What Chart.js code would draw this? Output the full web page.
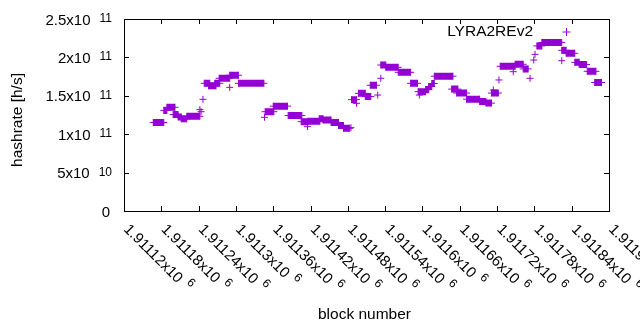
<!DOCTYPE html>
<html>
<head>
<meta charset="utf-8">
<script src="https://cdn.jsdelivr.net/npm/chart.js@4"></script>
<style>
  html, body { margin: 0; padding: 0; background: #fff; }
</style>
</head>
<body>
<canvas id="chart" width="640" height="330"></canvas>
<script>
// hashrate per block, read as flat runs: first block, last block, rate (h/s)
// a run with start == end is a single point
const runStart = [1911167, 1911184, 1911189, 1911199, 1911207, 1911212, 1911221, 1911242, 1911244, 1911247,
  1911249, 1911256, 1911266, 1911273, 1911290, 1911290, 1911304, 1911346, 1911347, 1911360,
  1911384, 1911405, 1911415, 1911416, 1911434, 1911440, 1911453, 1911465, 1911473, 1911485,
  1911486, 1911494, 1911497, 1911508, 1911516, 1911528, 1911533, 1911533, 1911541, 1911561,
  1911581, 1911593, 1911595, 1911605, 1911610, 1911615, 1911619, 1911647, 1911655, 1911671,
  1911692, 1911702, 1911711, 1911714, 1911723, 1911725, 1911746, 1911749, 1911762, 1911773,
  1911779, 1911781, 1911784, 1911792, 1911824, 1911824, 1911831, 1911845, 1911852, 1911865,
  1911877];
const runEnd = [1911184, 1911189, 1911202, 1911207, 1911212, 1911221, 1911242, 1911242, 1911244, 1911247,
  1911258, 1911268, 1911274, 1911290, 1911290, 1911304, 1911345, 1911346, 1911361, 1911383,
  1911406, 1911416, 1911415, 1911435, 1911440, 1911453, 1911465, 1911473, 1911483, 1911485,
  1911494, 1911494, 1911508, 1911517, 1911526, 1911528, 1911533, 1911541, 1911561, 1911581,
  1911592, 1911605, 1911595, 1911610, 1911615, 1911619, 1911649, 1911657, 1911671, 1911692,
  1911702, 1911711, 1911722, 1911714, 1911723, 1911749, 1911746, 1911762, 1911770, 1911773,
  1911779, 1911781, 1911792, 1911824, 1911824, 1911831, 1911845, 1911852, 1911864, 1911879,
  1911888];
const runRate = [115.2e9, 131e9, 135e9, 125.5e9, 122.5e9, 120e9, 123.3e9, 132e9, 129.3e9, 145.4e9,
  166.3e9, 163e9, 166.3e9, 172.8e9, 161e9, 176.8e9, 166.3e9, 122e9, 129.3e9, 136.5e9,
  124.3e9, 116.3e9, 109.8e9, 116.8e9, 120.2e9, 118.5e9, 115.2e9, 111.3e9, 107.7e9, 108.5e9,
  145e9, 140.2e9, 153.2e9, 149e9, 163.7e9, 151e9, 172.8e9, 190.1e9, 187.1e9, 180.6e9,
  166.3e9, 155.4e9, 151e9, 158e9, 162e9, 166e9, 175.5e9, 158.7e9, 153.6e9, 145.6e9,
  142.5e9, 140.5e9, 153.6e9, 157.5e9, 170.6e9, 188.4e9, 181.4e9, 191e9, 185e9, 172.8e9,
  196.6e9, 204e9, 215e9, 219.5e9, 195.7e9, 209.2e9, 205.3e9, 193.6e9, 190.7e9, 181.9e9,
  167.3e9];

const seriesName = 'LYRA2REv2';

const yTicks = [0, 5e10, 1e11, 1.5e11, 2e11, 2.5e11];
const yTickText = ['0', '5x10', '1x10', '1.5x10', '2x10', '2.5x10'];
const yTickExp = ['', '10', '11', '11', '11', '11'];

const xTicks = [1911120, 1911180, 1911240, 1911300, 1911360, 1911420, 1911480,
  1911540, 1911600, 1911660, 1911720, 1911780, 1911840, 1911900];
const xTickText = ['1.91112x10', '1.91118x10', '1.91124x10', '1.9113x10', '1.91136x10', '1.91142x10', '1.91148x10',
  '1.91154x10', '1.9116x10', '1.91166x10', '1.91172x10', '1.91178x10', '1.91184x10', '1.9119x10'];
const xTickExp = ['6', '6', '6', '6', '6', '6', '6', '6', '6', '6', '6', '6', '6', '6'];

const purple = '#9400d3';
const font = '"Liberation Sans", Arial, sans-serif';

// each run becomes a short thick segment, nulls break the line between runs
const points = [];
for (let i = 0; i < runStart.length; i++) {
    points.push({ x: runStart[i], y: runRate[i] });
    if (runEnd[i] !== runStart[i]) points.push({ x: runEnd[i], y: runRate[i] });
    points.push({ x: runEnd[i], y: null });
}

function drawCross(ctx, x, y, r) {
    ctx.beginPath();
    ctx.moveTo(x - r, y); ctx.lineTo(x + r, y);
    ctx.moveTo(x, y - r); ctx.lineTo(x, y + r);
    ctx.stroke();
}

// gnuplot style frame, inward ticks, superscript labels, key
const frame = {
    id: 'frame',
    afterDraw(chart) {
        const ctx = chart.ctx;
        const a = chart.chartArea;
        const xs = chart.scales.x, ys = chart.scales.y;
        const L = Math.round(a.left), R = Math.round(a.right);
        const T = Math.round(a.top), B = Math.round(a.bottom);
        ctx.save();
        ctx.strokeStyle = '#000';
        ctx.lineWidth = 1;
        ctx.strokeRect(L + 0.5, T + 0.5, R - L, B - T);

        ctx.beginPath();
        yTicks.forEach(v => {
            const py = Math.round(ys.getPixelForValue(v)) + 0.5;
            ctx.moveTo(L, py); ctx.lineTo(L + 5, py);
            ctx.moveTo(R, py); ctx.lineTo(R - 5, py);
        });
        xTicks.forEach(v => {
            const px = Math.round(xs.getPixelForValue(v)) + 0.5;
            ctx.moveTo(px, B); ctx.lineTo(px, B - 5);
            ctx.moveTo(px, T); ctx.lineTo(px, T + 5);
        });
        ctx.stroke();

        ctx.fillStyle = '#000';
        // y tick labels
        yTicks.forEach((v, i) => {
            const py = ys.getPixelForValue(v);
            ctx.textAlign = 'right';
            ctx.textBaseline = 'alphabetic';
            if (!yTickExp[i]) {
                ctx.font = '15px ' + font;
                ctx.fillText(yTickText[i], L - 14, py + 5.5);
                return;
            }
            ctx.font = '12px ' + font;
            const ew = ctx.measureText(yTickExp[i]).width;
            ctx.fillText(yTickExp[i], L - 12, py + 3);
            ctx.font = '15px ' + font;
            ctx.fillText(yTickText[i], L - 12 - ew - 9, py + 5.5);
        });

        // x tick labels, rotated -45 like gnuplot
        xTicks.forEach((v, i) => {
            const px = xs.getPixelForValue(v);
            ctx.save();
            ctx.translate(px + 3, B + 15);
            ctx.rotate(Math.PI / 4);
            ctx.textAlign = 'left';
            ctx.textBaseline = 'alphabetic';
            ctx.font = '15px ' + font;
            ctx.fillText(xTickText[i], 0, 5.5);
            const w = ctx.measureText(xTickText[i]).width;
            ctx.font = '12px ' + font;
            ctx.fillText(xTickExp[i], w + 6, -1.5);
            ctx.restore();
        });

        // axis titles
        ctx.font = '15.5px ' + font;
        ctx.textAlign = 'center';
        ctx.textBaseline = 'middle';
        ctx.fillText('block number', (L + R) / 2 - 2, 315);
        ctx.save();
        ctx.translate(17.5, 120);
        ctx.rotate(-Math.PI / 2);
        ctx.fillText('hashrate [h/s]', 0, 0);
        ctx.restore();

        // key
        ctx.textAlign = 'right';
        ctx.fillText(seriesName, R - 76, T + 13);
        ctx.strokeStyle = purple;
        drawCross(ctx, R - 42.5, T + 13, 4);
        ctx.restore();
    }
};

new Chart(document.getElementById('chart'), {
    type: 'line',
    data: {
        datasets: [{
            label: seriesName,
            data: points,
            borderColor: purple,
            backgroundColor: purple,
            borderWidth: 7,
            borderCapStyle: 'butt',
            spanGaps: false,
            tension: 0,
            pointStyle: 'cross',
            pointRadius: 3.5,
            pointBorderWidth: 1,
            pointBorderColor: purple
        }]
    },
    options: {
        responsive: false,
        animation: false,
        events: [],
        layout: { padding: { left: 124, right: 31, top: 19, bottom: 119 } },
        scales: {
            x: { type: 'linear', display: false, min: 1911120, max: 1911900 },
            y: { type: 'linear', display: false, min: 0, max: 2.5e11 }
        },
        plugins: {
            legend: { display: false },
            tooltip: { enabled: false }
        }
    },
    plugins: [frame]
});
</script>
</body>
</html>
